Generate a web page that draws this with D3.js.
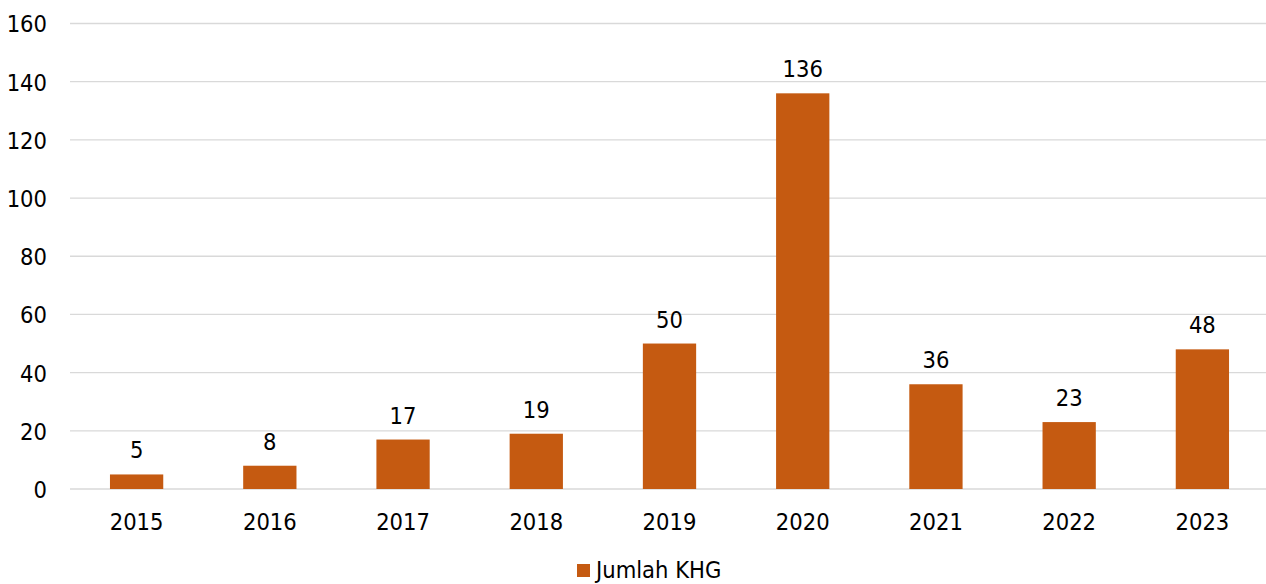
<!DOCTYPE html>
<html>
<head>
<meta charset="utf-8">
<script src="https://cdn.jsdelivr.net/npm/d3@7"></script>
<style>
  html, body { margin: 0; padding: 0; background: #fff; }
  svg text { font-family: "DejaVu Sans Condensed", "DejaVu Sans", sans-serif; font-stretch: condensed; fill: #000; }
</style>
</head>
<body>
<svg id="chart" width="1266" height="584"></svg>
<script>
const categories = ["2015", "2016", "2017", "2018", "2019", "2020", "2021", "2022", "2023"];
const values = [5, 8, 17, 19, 50, 136, 36, 23, 48];
const yTicks = [0, 20, 40, 60, 80, 100, 120, 140, 160];
const seriesName = "Jumlah KHG";
const barColor = "#C55A11";

const svg = d3.select("#chart");
const fs = 23.5;

const x = d3.scaleBand().domain(categories).range([70, 1269]).paddingInner(0.6).paddingOuter(0.3);
const y = d3.scaleLinear().domain([0, 160]).range([489, 23.5]);

// gridlines
svg.append("g").selectAll("line").data(yTicks).join("line")
  .attr("x1", 70).attr("x2", 1266)
  .attr("y1", d => y(d)).attr("y2", d => y(d))
  .attr("stroke", "#D9D9D9").attr("stroke-width", 1.3);

// y axis labels
const yAxis = d3.axisLeft(y).tickValues(yTicks).tickSize(0).tickPadding(0);
const yg = svg.append("g").attr("transform", "translate(47,0)").call(yAxis);
yg.select(".domain").remove();
yg.selectAll("text").attr("font-size", fs).attr("dy", "0.36em").style("fill", "#000");

// x axis labels
const xAxis = d3.axisBottom(x).tickSize(0).tickPadding(0);
const xg = svg.append("g").attr("transform", "translate(0,512)").call(xAxis);
xg.select(".domain").remove();
xg.selectAll("text").attr("font-size", fs).attr("dy", "0.76em").style("fill", "#000");

// bars
svg.append("g").selectAll("rect").data(values).join("rect")
  .attr("x", (d, i) => x(categories[i]))
  .attr("width", x.bandwidth())
  .attr("y", d => y(d))
  .attr("height", d => y(0) - y(d))
  .attr("fill", barColor);

// value labels
svg.append("g").selectAll("text").data(values).join("text")
  .attr("x", (d, i) => x(categories[i]) + x.bandwidth() / 2)
  .attr("y", d => y(d) - 16)
  .attr("text-anchor", "middle")
  .attr("font-size", fs)
  .text(d => d);

// legend
const lg = svg.append("g");
lg.append("rect").attr("x", 577).attr("y", 564).attr("width", 13).attr("height", 13).attr("fill", barColor);
lg.append("text").attr("x", 596).attr("y", 578).attr("font-size", fs).text(seriesName);
</script>
</body>
</html>
